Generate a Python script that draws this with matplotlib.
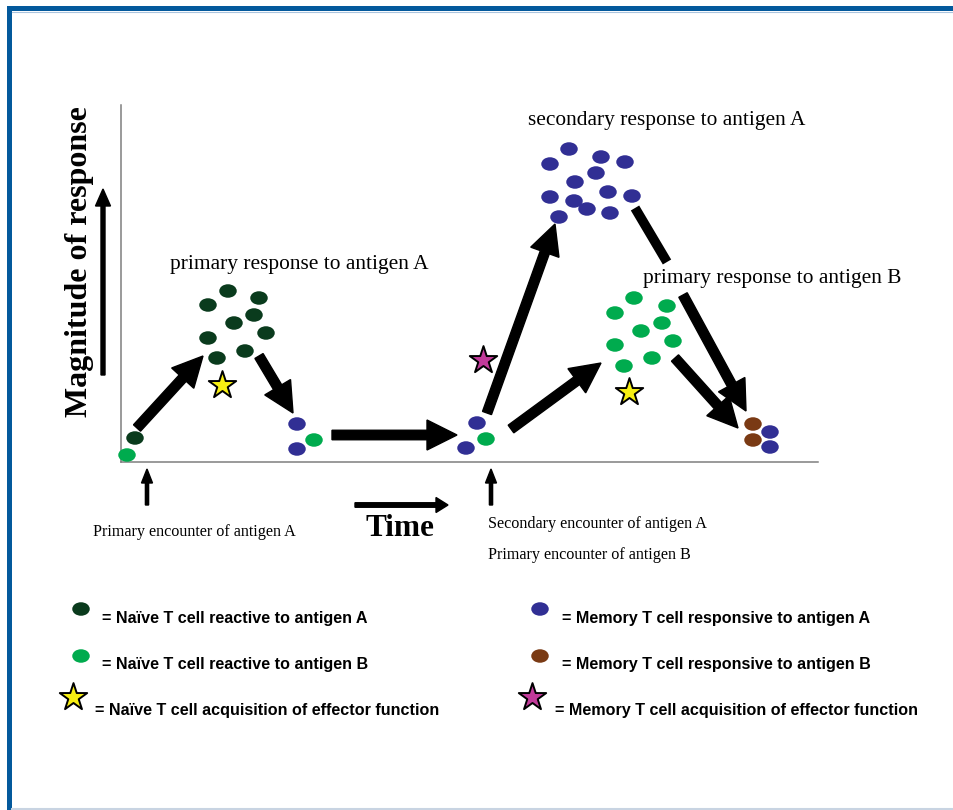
"""Primary vs secondary T cell response diagram (magnitude of response over time)."""
import matplotlib
matplotlib.use("Agg")
import matplotlib.pyplot as plt
from matplotlib.patches import Ellipse, Rectangle

# ---- cell positions (pixel space of the 954x810 panel) ----
naive_a_x = [135, 228, 208, 259, 254, 234, 208, 266, 217, 245]
naive_a_y = [438, 291, 305, 298, 315, 323, 338, 333, 358, 351]

naive_b_x = [127, 314, 486, 634, 615, 667, 641, 662, 615, 673, 624, 652]
naive_b_y = [455, 440, 439, 298, 313, 306, 331, 323, 345, 341, 366, 358]

memory_a_x = [297, 297, 477, 466,
              569, 550, 601, 625, 596, 575, 550, 574, 608, 632, 587, 559, 610,
              770, 770]
memory_a_y = [424, 449, 423, 448,
              149, 164, 157, 162, 173, 182, 197, 201, 192, 196, 209, 217, 213,
              432, 447]

memory_b_x = [753, 753]
memory_b_y = [424, 440]

naive_star_x = [222, 629]
naive_star_y = [385, 392]
memory_star_x = [483]
memory_star_y = [360]

# thick arrows: (x_tail, y_tail, x_tip, y_tip)
big_arrows = [
    (137, 428, 203, 356),
    (259, 356, 293, 413),
    (332, 435, 457, 435),
    (487, 413, 555, 224),
    (511, 429, 601, 363),
    (683, 295, 746, 411),
    (675, 358, 738, 428),
]
# headless piece of the secondary->memory arrow (broken by label)
broken_line = (635, 208, 667, 262)

labels_annot = [
    ("primary response to antigen A", 170, 265),
    ("secondary response to antigen A", 528, 121),
    ("primary response to antigen B", 643, 278),
]
labels_events = [
    ("Primary encounter of antigen A", 93, 532),
    ("Secondary encounter of antigen A", 488, 524),
    ("Primary encounter of antigen B", 488, 555),
]
event_x = [147, 491]

legend_left = [
    "= Naïve T cell reactive to antigen A",
    "= Naïve T cell reactive to antigen B",
    "= Naïve T cell acquisition of effector function",
]
legend_right = [
    "= Memory T cell responsive to antigen A",
    "= Memory T cell responsive to antigen B",
    "= Memory T cell acquisition of effector function",
]

C_NAIVE_A = "#0a3b1d"
C_NAIVE_B = "#00ab4e"
C_MEM_A = "#312f94"
C_MEM_B = "#7a3a14"
C_STAR_N = "#f7ef12"
C_STAR_M = "#c23a9a"
C_FRAME = "#03599c"

SERIF = ["Liberation Serif", "DejaVu Serif"]
SANS = ["Liberation Sans", "DejaVu Sans"]


def cells(ax, xs, ys, color, w=17.5, h=13.5):
    for x, y in zip(xs, ys):
        ax.add_patch(Ellipse((x, y), w, h, facecolor=color, edgecolor="none", zorder=3))


def stars(ax, xs, ys, color, s=430):
    ax.scatter(xs, ys, marker="*", s=s, c=color, edgecolors="black",
               linewidths=1.4, zorder=4)


def arrow(ax, x0, y0, x1, y1, width=9.5, hw=30, hl=30):
    ax.arrow(x0, y0, x1 - x0, y1 - y0, width=width, head_width=hw, head_length=hl,
             length_includes_head=True, color="black", zorder=2)


fig = plt.figure(figsize=(9.54, 8.10), dpi=100)
ax = fig.add_axes([0, 0, 1, 1])
ax.set_xlim(0, 954)
ax.set_ylim(810, 0)
ax.axis("off")

# frame
ax.add_patch(Rectangle((7, 6), 947, 5, facecolor=C_FRAME, edgecolor="none"))
ax.add_patch(Rectangle((7, 6), 5, 804, facecolor=C_FRAME, edgecolor="none"))
ax.plot([12, 954], [12, 12], color="#a9c4de", lw=0.8)
ax.plot([12, 954], [808.5, 808.5], color="#c8d4e2", lw=1.5)

# axes of the diagram
ax.plot([121, 121], [105, 462], color="#7f7f7f", lw=1.1, zorder=1)
ax.plot([121, 818], [462, 462], color="#7f7f7f", lw=1.1, zorder=1)

ax.text(80, 262, "Magnitude of response", rotation=90, ha="center", va="center",
        fontsize=23, fontweight="bold", family=SERIF)
arrow(ax, 103, 375, 103, 189, width=4, hw=15, hl=17)

ax.text(400, 528, "Time", ha="center", va="center", fontsize=22.5,
        fontweight="bold", family=SERIF)
arrow(ax, 355, 505, 448, 505, width=4.5, hw=15, hl=12)

for x in event_x:
    arrow(ax, x, 505, x, 469, width=3.2, hw=11, hl=14)

for txt, x, y in labels_annot:
    ax.text(x, y, txt, ha="left", va="center", fontsize=15.4, family=SERIF)
for txt, x, y in labels_events:
    ax.text(x, y, txt, ha="left", va="center", fontsize=11.6, family=SERIF)

for x0, y0, x1, y1 in big_arrows:
    arrow(ax, x0, y0, x1, y1)
ax.plot(broken_line[0::2], broken_line[1::2], color="black", lw=7,
        solid_capstyle="butt", zorder=2)

cells(ax, naive_a_x, naive_a_y, C_NAIVE_A)
cells(ax, naive_b_x, naive_b_y, C_NAIVE_B)
cells(ax, memory_a_x, memory_a_y, C_MEM_A)
cells(ax, memory_b_x, memory_b_y, C_MEM_B)
stars(ax, naive_star_x, naive_star_y, C_STAR_N)
stars(ax, memory_star_x, memory_star_y, C_STAR_M)

# legend
cells(ax, [81], [609], C_NAIVE_A)
cells(ax, [81], [656], C_NAIVE_B)
stars(ax, [73], [697], C_STAR_N)
cells(ax, [540], [609], C_MEM_A)
cells(ax, [540], [656], C_MEM_B)
stars(ax, [532], [697], C_STAR_M)

for txt, x, y in zip(legend_left, [102, 102, 95], [618, 664, 710]):
    ax.text(x, y, txt, ha="left", va="center", fontsize=11.6,
            fontweight="bold", family=SANS)
for txt, x, y in zip(legend_right, [562, 562, 555], [618, 664, 710]):
    ax.text(x, y, txt, ha="left", va="center", fontsize=11.6,
            fontweight="bold", family=SANS)

fig.savefig("out.png", dpi=100)
